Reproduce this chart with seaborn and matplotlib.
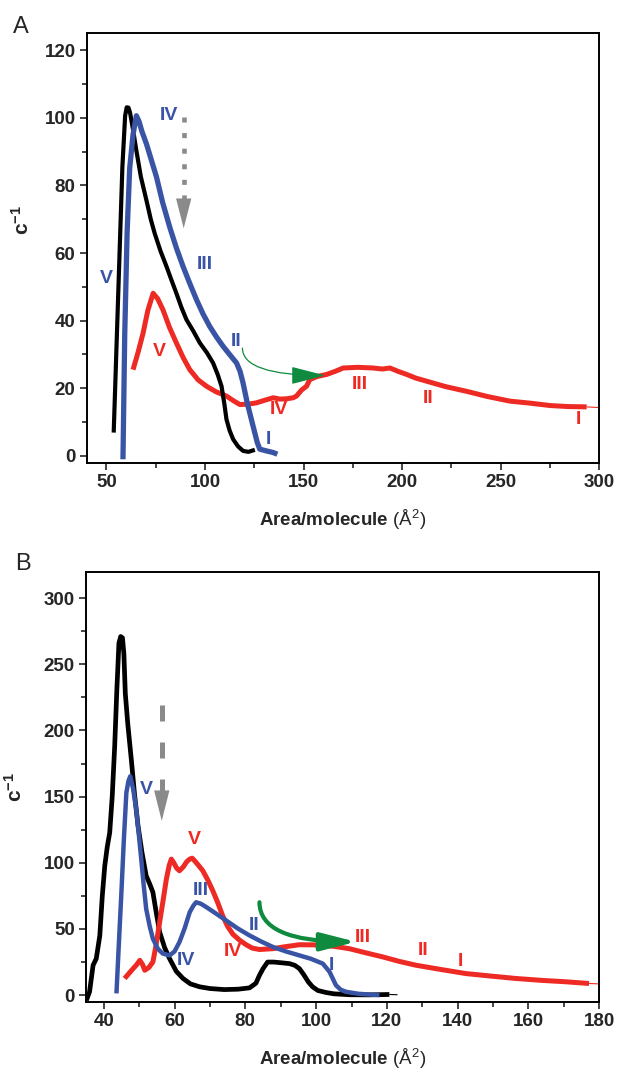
import numpy as np
import pandas as pd
import matplotlib
matplotlib.use("Agg")
import matplotlib.pyplot as plt
import seaborn as sns

# ---------------- panel A isotherm compressibility (c^-1 vs area) ----------------
a_black_x = [53.7, 55.9, 58.1, 59.5, 60.3, 61.2, 62.0, 63.5, 65.2, 67.5, 70.3, 72.5, 74.5,
             77.5, 80.5, 83.0, 85.5, 88.0, 90.6, 94.0, 97.4, 101.0, 104.1, 106.5, 108.4,
             109.8, 110.9, 112.5, 114.3, 116.8, 119.3, 122.0, 125.3]
a_black_y = [6.9, 46.2, 85.4, 100.6, 103.1, 103.0, 101.5, 96.5, 90.3, 82.5, 75.6, 70.0, 65.8,
             60.5, 56.0, 52.0, 48.1, 44.0, 40.3, 37.0, 33.4, 30.5, 27.5, 24.0, 20.6,
             15.5, 10.8, 7.5, 4.9, 2.8, 1.5, 1.2, 1.8]

a_blue_x = [58.4, 59.3, 60.5, 61.8, 63.5, 65.2, 66.5, 68.0, 70.3, 72.8, 75.4, 78.5, 82.1,
            85.5, 88.9, 92.3, 95.7, 99.0, 102.4, 105.8, 109.2, 112.5, 116.0, 117.8, 119.3,
            121.5, 124.4, 126.5, 127.8, 131.0, 134.6, 136.7]
a_blue_y = [-1.0, 36.0, 66.0, 85.0, 95.0, 100.6, 99.0, 96.0, 92.3, 87.5, 82.5, 75.0, 67.7,
            61.5, 56.0, 51.0, 46.2, 42.0, 38.3, 35.2, 32.4, 30.0, 27.5, 25.0, 21.6,
            15.5, 8.8, 4.0, 2.0, 1.5, 1.0, 0.5]

a_red_x = [63.5, 66.0, 68.6, 71.0, 73.7, 76.0, 78.7, 82.0, 85.5, 89.0, 92.3, 96.5, 100.8,
           105.5, 110.9, 114.5, 117.7, 122.0, 126.1, 130.5, 134.6, 138.0, 141.5, 144.7,
           146.4, 149.0, 151.5, 153.2, 157.0, 161.7, 166.0, 170.1, 177.5, 185.3, 190.0,
           193.8, 198.0, 202.3, 207.0, 212.4, 222.0, 232.7, 243.0, 254.7, 265.0, 275.0,
           284.0, 293.6]
a_red_y = [25.5, 30.5, 36.3, 43.0, 48.1, 46.5, 43.2, 38.0, 33.4, 29.0, 25.5, 22.5, 20.6,
           19.0, 17.7, 16.3, 15.2, 15.3, 15.7, 16.5, 17.2, 16.8, 16.9, 17.2,
           17.7, 19.5, 20.6, 22.6, 23.5, 24.1, 25.0, 26.0, 26.2, 26.0, 25.7,
           26.0, 25.0, 24.1, 23.0, 22.1, 20.5, 19.1, 17.6, 16.2, 15.6, 14.9,
           14.6, 14.5]
a_red_tail_x = [293.6, 300.0]
a_red_tail_y = [14.5, 14.3]

# ---------------- panel B ----------------
b_black_x = [35.1, 36.0, 37.0, 37.9, 38.9, 39.6, 40.3, 41.0, 41.7, 42.4, 43.1, 43.7, 44.3,
             44.8, 45.3, 45.7, 46.1, 46.8, 47.8, 48.7, 49.7, 50.8, 52.0, 53.0, 53.9, 54.8,
             55.8, 57.2, 58.6, 60.5, 62.4, 64.5, 67.1, 70.0, 74.0, 78.0, 81.2, 83.0, 84.0,
             85.0, 86.3, 88.0, 90.0, 92.5, 94.0, 95.3, 96.5, 97.8, 99.0, 100.5, 102.8,
             105.0, 109.4, 115.0, 120.7]
b_black_y = [-4.0, 2.5, 22.6, 27.6, 45.0, 75.0, 97.7, 112.0, 122.9, 150.0, 188.0, 230.0, 266.0,
             271.0, 270.0, 258.0, 228.0, 205.0, 178.0, 152.0, 127.8, 108.0, 90.2, 84.0, 77.7,
             63.0, 47.7, 36.0, 27.6, 18.0, 12.6, 8.5, 6.3, 5.0, 4.2, 4.5, 5.5, 9.0, 15.0,
             20.0, 25.0, 25.0, 24.5, 23.8, 22.5, 20.0, 15.5, 10.0, 6.3, 3.5, 2.0,
             1.0, 0.3, 0.2, 0.5]
b_black_tail_x = [120.7, 123.0]
b_black_tail_y = [0.5, 0.3]

b_blue_x = [43.6, 44.3, 45.0, 45.7, 46.4, 47.0, 47.5, 48.3, 49.2, 49.9, 50.6, 51.3, 52.0,
            53.0, 53.9, 55.3, 56.7, 58.6, 60.0, 61.4, 62.8, 64.3, 65.3, 66.1, 67.5, 69.0,
            71.8, 74.6, 77.8, 81.2, 84.5, 87.8, 91.5, 95.3, 98.5, 101.9, 103.8, 105.6,
            107.0, 108.5, 112.0, 115.0, 117.9]
b_blue_y = [1.3, 40.0, 77.7, 118.0, 153.0, 162.0, 165.4, 156.0, 140.4, 122.0, 102.8, 83.0, 65.2,
            52.0, 42.6, 35.0, 31.4, 30.0, 33.0, 40.1, 50.0, 62.7, 67.5, 70.2, 69.0, 66.5,
            61.5, 56.4, 50.5, 45.1, 40.5, 36.4, 33.0, 30.0, 27.5, 23.8, 17.6, 7.5,
            4.0, 2.5, 1.0, 0.5, 0.0]

b_red_x = [45.9, 47.0, 48.3, 49.3, 50.2, 51.0, 51.6, 52.8, 53.9, 54.8, 55.8, 56.8, 57.7, 58.5,
           59.1, 59.8, 60.6, 61.4, 62.5, 63.5, 64.3, 65.0, 65.7, 66.8, 68.0, 69.4, 70.8,
           72.2, 73.6, 75.0, 76.5, 78.4, 80.3, 82.0, 84.0, 87.8, 91.0, 95.3, 99.0, 102.8,
           106.0, 109.4, 114.0, 118.8, 123.5, 128.2, 135.0, 142.3, 149.0, 156.4, 163.5,
           170.5, 177.1]
b_red_y = [12.6, 16.0, 20.0, 23.0, 26.3, 23.0, 18.8, 21.0, 25.1, 38.0, 55.2, 72.0, 87.7, 98.0,
           102.8, 100.0, 96.0, 94.0, 97.0, 101.0, 102.8, 103.5, 101.5, 98.0, 94.0, 87.0, 79.0,
           70.0, 60.0, 52.0, 46.0, 41.5, 38.0, 35.5, 34.5, 35.1, 36.5, 38.1, 38.0, 37.6,
           36.5, 35.1, 32.0, 28.9, 25.5, 22.6, 19.5, 16.3, 14.5, 12.6, 11.2,
           10.1, 8.8]
b_red_tail_x = [177.1, 180.0]
b_red_tail_y = [8.8, 8.5]

# phase labels: (text, x, y) per curve colour
a_blue_labels = [("IV", 81.8, 100.6), ("V", 50.0, 52.6), ("III", 99.9, 56.5),
                 ("II", 115.6, 33.9), ("I", 132.0, 4.9)]
a_red_labels = [("V", 77.0, 30.9), ("IV", 137.6, 13.8), ("III", 178.6, 21.1),
                ("II", 213.4, 16.9), ("I", 289.4, 10.8)]
b_blue_labels = [("V", 52.0, 155.4), ("III", 67.4, 79.0), ("II", 82.6, 52.6),
                 ("IV", 63.3, 26.3), ("I", 104.2, 22.6)]
b_red_labels = [("V", 65.7, 117.8), ("IV", 76.5, 32.6), ("III", 113.1, 43.9),
                ("II", 130.3, 33.8), ("I", 140.9, 25.1)]

BLACK = "#000000"
BLUE = "#3a54a5"
RED = "#ee2a24"
GREEN = "#0f8a3f"
GRAY = "#8a8a8a"

sns.set_style("ticks")
plt.rcParams["font.family"] = ["Liberation Sans", "DejaVu Sans"]
plt.rcParams["mathtext.fontset"] = "custom"
plt.rcParams["mathtext.rm"] = "Liberation Sans"
plt.rcParams["mathtext.bf"] = "Liberation Sans:bold"
plt.rcParams["mathtext.it"] = "Liberation Sans:italic"

fig = plt.figure(figsize=(6.17, 10.73), dpi=100)
ax_a = fig.add_axes([0.1405, 0.5688, 0.8308, 0.4002])
ax_b = fig.add_axes([0.1394, 0.0664, 0.8319, 0.4008])


def curve(ax, xs, ys, color, lw):
    df = pd.DataFrame({"area": xs, "inv_c": ys})
    sns.lineplot(data=df, x="area", y="inv_c", color=color, lw=lw, sort=False,
                 estimator=None, ax=ax, solid_capstyle="butt")


def labels(ax, items, color):
    for txt, x, y in items:
        ax.text(x, y, txt, color=color, fontsize=14, fontweight="bold",
                ha="center", va="center")


def style_axes(ax, xlim, ylim, xmajor, xminor, ymajor, yminor):
    ax.set_xlim(*xlim)
    ax.set_ylim(*ylim)
    ax.set_xticks(xmajor)
    ax.set_xticks(xminor, minor=True)
    ax.set_yticks(ymajor)
    ax.set_yticks(yminor, minor=True)
    for s in ax.spines.values():
        s.set_visible(True)
        s.set_linewidth(1.4)
        s.set_color("black")
    ax.tick_params(which="major", direction="out", length=5, width=1.2,
                   labelsize=13.5, pad=3, top=False, right=False)
    ax.tick_params(which="minor", direction="out", length=3.5, width=1.2,
                   top=False, right=False)
    for lab in ax.get_xticklabels() + ax.get_yticklabels():
        lab.set_fontweight("bold")
    ax.set_xlabel(r"$\mathbf{Area/molecule}\ (\mathrm{Å}^{2})$", fontsize=13.5, labelpad=12)
    ax.set_ylabel(r"c$^{\mathbf{-1}}$", fontsize=15, fontweight="bold")
    ax.grid(False)


# ---- panel A ----
curve(ax_a, a_red_x, a_red_y, RED, 3.6)
curve(ax_a, a_red_tail_x, a_red_tail_y, RED, 0.8)
curve(ax_a, a_black_x, a_black_y, BLACK, 3.0)
curve(ax_a, a_blue_x, a_blue_y, BLUE, 3.8)
labels(ax_a, a_blue_labels, BLUE)
labels(ax_a, a_red_labels, RED)
style_axes(ax_a, (40, 300), (-2, 125),
           np.arange(50, 301, 50), np.arange(75, 300, 50),
           np.arange(0, 121, 20), np.arange(10, 125, 20))
ax_a.yaxis.set_label_coords(-0.105, 0.565)

# dotted grey arrow
ax_a.plot([89.2, 89.2], [100.3, 75.5], color=GRAY, lw=3.3, ls=(0, (1.1, 2.3)),
          solid_capstyle="butt", dash_capstyle="butt")
ax_a.annotate("", xy=(89.2, 67.3), xytext=(89.2, 76.1),
              arrowprops=dict(arrowstyle="-|>,head_length=2.15,head_width=0.55",
                              color=GRAY, lw=0, shrinkA=0, shrinkB=0, mutation_scale=10))
# thin green curved arrow
ax_a.annotate("", xy=(161.0, 23.8), xytext=(119.0, 31.9),
              arrowprops=dict(arrowstyle="-|>,head_length=2.15,head_width=0.55",
                              color=GREEN, lw=0.9, shrinkA=0, shrinkB=0, mutation_scale=10,
                              connectionstyle="angle3,angleA=-90,angleB=0"))

# ---- panel B ----
curve(ax_b, b_black_x, b_black_y, BLACK, 3.4)
curve(ax_b, b_black_tail_x, b_black_tail_y, BLACK, 0.8)
curve(ax_b, b_red_x, b_red_y, RED, 3.6)
curve(ax_b, b_red_tail_x, b_red_tail_y, RED, 0.8)
curve(ax_b, b_blue_x, b_blue_y, BLUE, 3.2)
labels(ax_b, b_blue_labels, BLUE)
labels(ax_b, b_red_labels, RED)
style_axes(ax_b, (35, 180), (-5, 320),
           np.arange(40, 181, 20), np.arange(50, 180, 20),
           np.arange(0, 301, 50), np.arange(25, 320, 50))
ax_b.yaxis.set_label_coords(-0.117, 0.5)

# dashed grey arrow
ax_b.plot([56.4, 56.4], [219.3, 154.0], color=GRAY, lw=3.6, ls=(0, (3.2, 4.2)),
          solid_capstyle="butt", dash_capstyle="butt")
ax_b.annotate("", xy=(56.4, 131.6), xytext=(56.4, 155.4),
              arrowprops=dict(arrowstyle="-|>,head_length=2.2,head_width=0.55",
                              color=GRAY, lw=0, shrinkA=0, shrinkB=0, mutation_scale=10))
# thick green curved arrow
ax_b.annotate("", xy=(111.3, 40.3), xytext=(84.0, 70.2),
              arrowprops=dict(arrowstyle="-|>,head_length=2.15,head_width=0.55",
                              color=GREEN, lw=3.0, shrinkA=0, shrinkB=0, mutation_scale=10,
                              connectionstyle="angle3,angleA=-90,angleB=0"))

fig.text(0.021, 0.969, "A", fontsize=17, ha="left", va="baseline")
fig.text(0.024, 0.4688, "B", fontsize=17, ha="left", va="baseline")

fig.savefig("out.png", dpi=100)
